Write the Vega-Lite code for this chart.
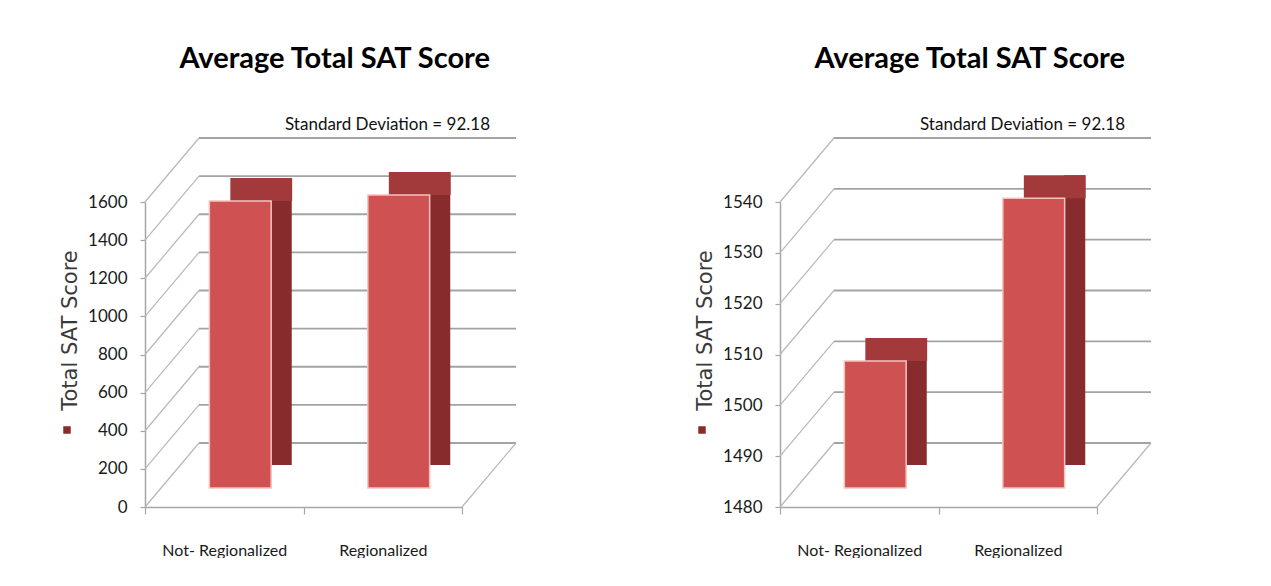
{
  "$schema": "https://vega.github.io/schema/vega-lite/v6.json",
  "background": "white",
  "padding": {"left": 59, "top": 45, "right": 0, "bottom": 0},
  "datasets": {
    "scores": [
      {"group": "Not- Regionalized", "score": 1505, "series": "Total SAT Score"},
      {"group": "Regionalized", "score": 1537, "series": "Total SAT Score"}
    ],
    "ticksL": [{"v": 0}, {"v": 200}, {"v": 400}, {"v": 600}, {"v": 800}, {"v": 1000}, {"v": 1200}, {"v": 1400}, {"v": 1600}],
    "ticksR": [{"v": 1480}, {"v": 1490}, {"v": 1500}, {"v": 1510}, {"v": 1520}, {"v": 1530}, {"v": 1540}]
  },
  "spacing": 177,
  "resolve": {"scale": {"x": "independent", "y": "independent", "color": "independent"}, "legend": {"color": "independent"}},
  "hconcat": [
    {
      "width": 317,
      "height": 305,
      "title": {"text": "Average Total SAT Score", "subtitle": "Standard Deviation = 92.18"},
      "layer": [
        {
          "data": {"name": "ticksL"},
          "mark": {"type": "rule", "color": "#A3A3A3", "strokeWidth": 1.8, "xOffset": 54, "x2Offset": 54, "yOffset": -64},
          "encoding": {
            "x": {"datum": "Not- Regionalized", "type": "nominal", "bandPosition": 0,
              "scale": {"domain": ["Not- Regionalized", "Regionalized"], "paddingInner": 0, "paddingOuter": 0},
              "axis": {"title": null, "labelAngle": 0, "bandPosition": 0.5, "tickBand": "extent", "tickSize": 7, "labelPadding": 28}},
            "x2": {"datum": "Regionalized", "bandPosition": 1},
            "y": {"field": "v", "type": "quantitative", "scale": {"domain": [0, 1600], "nice": false},
              "axis": {"values": [0, 200, 400, 600, 800, 1000, 1200, 1400, 1600], "tickCount": 9, "format": "d", "labelOverlap": false, "labelSeparation": 0, "tickSize": 5, "labelPadding": 13, "title": "Total SAT Score", "titlePadding": 7, "titleY": 128}}
          }
        },
        {
          "data": {"name": "ticksL"},
          "mark": {"type": "rule", "color": "#B8B8B8", "strokeWidth": 1.2, "x2Offset": 54, "y2Offset": -64},
          "encoding": {
            "x": {"datum": "Not- Regionalized", "type": "nominal", "bandPosition": 0},
            "x2": {"datum": "Not- Regionalized", "bandPosition": 0},
            "y": {"field": "v", "type": "quantitative"},
            "y2": {"field": "v"}
          }
        },
        {
          "data": {"values": [{}]},
          "mark": {"type": "rule", "color": "#B8B8B8", "strokeWidth": 1.2, "x2Offset": 54, "y2Offset": -64},
          "encoding": {
            "x": {"datum": "Regionalized", "type": "nominal", "bandPosition": 1},
            "x2": {"datum": "Regionalized", "bandPosition": 1},
            "y": {"datum": 0, "type": "quantitative"},
            "y2": {"datum": 0}
          }
        },
        {
          "data": {"name": "scores"},
          "mark": {"type": "bar", "width": 21, "xOffset": 57, "yOffset": -42, "y2Offset": -42},
          "encoding": {
            "x": {"field": "group", "type": "nominal"},
            "y": {"field": "score", "type": "quantitative"},
            "y2": {"datum": 0},
            "color": {"field": "series", "type": "nominal", "scale": {"range": ["#872B2D"]},
              "legend": {"orient": "none", "legendX": -82, "legendY": 224, "title": null, "labelExpr": "''", "symbolType": "square", "symbolSize": 56, "symbolStrokeWidth": 0, "padding": 0, "labelFontSize": 1}}
          }
        },
        {
          "data": {"name": "scores"},
          "mark": {"type": "bar", "width": {"band": 0.39}, "xOffset": 37, "yOffset": -42, "y2Offset": -19, "color": "#A23A3C"},
          "encoding": {
            "x": {"field": "group", "type": "nominal"},
            "y": {"field": "score", "type": "quantitative"},
            "y2": {"field": "score"}
          }
        },
        {
          "data": {"name": "scores"},
          "mark": {"type": "bar", "width": {"band": 0.39}, "xOffset": 16, "yOffset": -19, "y2Offset": -19, "fill": "#CF5152", "stroke": "#F4C3BD", "strokeWidth": 1.5},
          "encoding": {
            "x": {"field": "group", "type": "nominal"},
            "y": {"field": "score", "type": "quantitative"},
            "y2": {"datum": 0}
          }
        }
      ]
    },
    {
      "width": 317,
      "height": 305,
      "title": {"text": "Average Total SAT Score", "subtitle": "Standard Deviation = 92.18"},
      "layer": [
        {
          "data": {"name": "ticksR"},
          "mark": {"type": "rule", "color": "#A3A3A3", "strokeWidth": 1.8, "xOffset": 54, "x2Offset": 54, "yOffset": -64},
          "encoding": {
            "x": {"datum": "Not- Regionalized", "type": "nominal", "bandPosition": 0,
              "scale": {"domain": ["Not- Regionalized", "Regionalized"], "paddingInner": 0, "paddingOuter": 0},
              "axis": {"title": null, "labelAngle": 0, "bandPosition": 0.5, "tickBand": "extent", "tickSize": 7, "labelPadding": 28}},
            "x2": {"datum": "Regionalized", "bandPosition": 1},
            "y": {"field": "v", "type": "quantitative", "scale": {"domain": [1480, 1540], "nice": false, "zero": false},
              "axis": {"values": [1480, 1490, 1500, 1510, 1520, 1530, 1540], "format": "d", "labelOverlap": false, "tickSize": 5, "labelPadding": 13, "title": "Total SAT Score", "titlePadding": 7, "titleY": 128}}
          }
        },
        {
          "data": {"name": "ticksR"},
          "mark": {"type": "rule", "color": "#B8B8B8", "strokeWidth": 1.2, "x2Offset": 54, "y2Offset": -64},
          "encoding": {
            "x": {"datum": "Not- Regionalized", "type": "nominal", "bandPosition": 0},
            "x2": {"datum": "Not- Regionalized", "bandPosition": 0},
            "y": {"field": "v", "type": "quantitative"},
            "y2": {"field": "v"}
          }
        },
        {
          "data": {"values": [{}]},
          "mark": {"type": "rule", "color": "#B8B8B8", "strokeWidth": 1.2, "x2Offset": 54, "y2Offset": -64},
          "encoding": {
            "x": {"datum": "Regionalized", "type": "nominal", "bandPosition": 1},
            "x2": {"datum": "Regionalized", "bandPosition": 1},
            "y": {"datum": 1480, "type": "quantitative"},
            "y2": {"datum": 1480}
          }
        },
        {
          "data": {"name": "scores"},
          "mark": {"type": "bar", "width": 21, "xOffset": 57, "yOffset": -42, "y2Offset": -42},
          "encoding": {
            "x": {"field": "group", "type": "nominal"},
            "y": {"field": "score", "type": "quantitative"},
            "y2": {"datum": 1480},
            "color": {"field": "series", "type": "nominal", "scale": {"range": ["#872B2D"]},
              "legend": {"orient": "none", "legendX": -82, "legendY": 224, "title": null, "labelExpr": "''", "symbolType": "square", "symbolSize": 56, "symbolStrokeWidth": 0, "padding": 0, "labelFontSize": 1}}
          }
        },
        {
          "data": {"name": "scores"},
          "mark": {"type": "bar", "width": {"band": 0.39}, "xOffset": 37, "yOffset": -42, "y2Offset": -19, "color": "#A23A3C"},
          "encoding": {
            "x": {"field": "group", "type": "nominal"},
            "y": {"field": "score", "type": "quantitative"},
            "y2": {"field": "score"}
          }
        },
        {
          "data": {"name": "scores"},
          "mark": {"type": "bar", "width": {"band": 0.39}, "xOffset": 16, "yOffset": -19, "y2Offset": -19, "fill": "#CF5152", "stroke": "#F4C3BD", "strokeWidth": 1.5},
          "encoding": {
            "x": {"field": "group", "type": "nominal"},
            "y": {"field": "score", "type": "quantitative"},
            "y2": {"datum": 1480}
          }
        }
      ]
    }
  ],
  "config": {
    "view": {"stroke": null},
    "font": "Lato",
    "title": {"font": "Lato", "fontSize": 29, "fontWeight": "bold", "color": "#000000",
      "subtitleFont": "Lato", "subtitleFontSize": 17, "subtitleColor": "#111111", "subtitlePadding": 43,
      "anchor": "end", "frame": "group", "dx": 28, "offset": 0},
    "axis": {"labelFont": "Lato", "labelFontSize": 17, "labelColor": "#1a1a1a", "labelOverlap": false,
      "domainColor": "#A6A6A6", "domainWidth": 1.5, "tickColor": "#A6A6A6", "tickWidth": 1.2, "grid": false,
      "titleFont": "DejaVu Sans", "titleFontSize": 21, "titleFontWeight": "normal", "titleColor": "#3a3a3a"},
    "axisX": {"labelFontSize": 16},
    "legend": {"symbolType": "square"}
  }
}
